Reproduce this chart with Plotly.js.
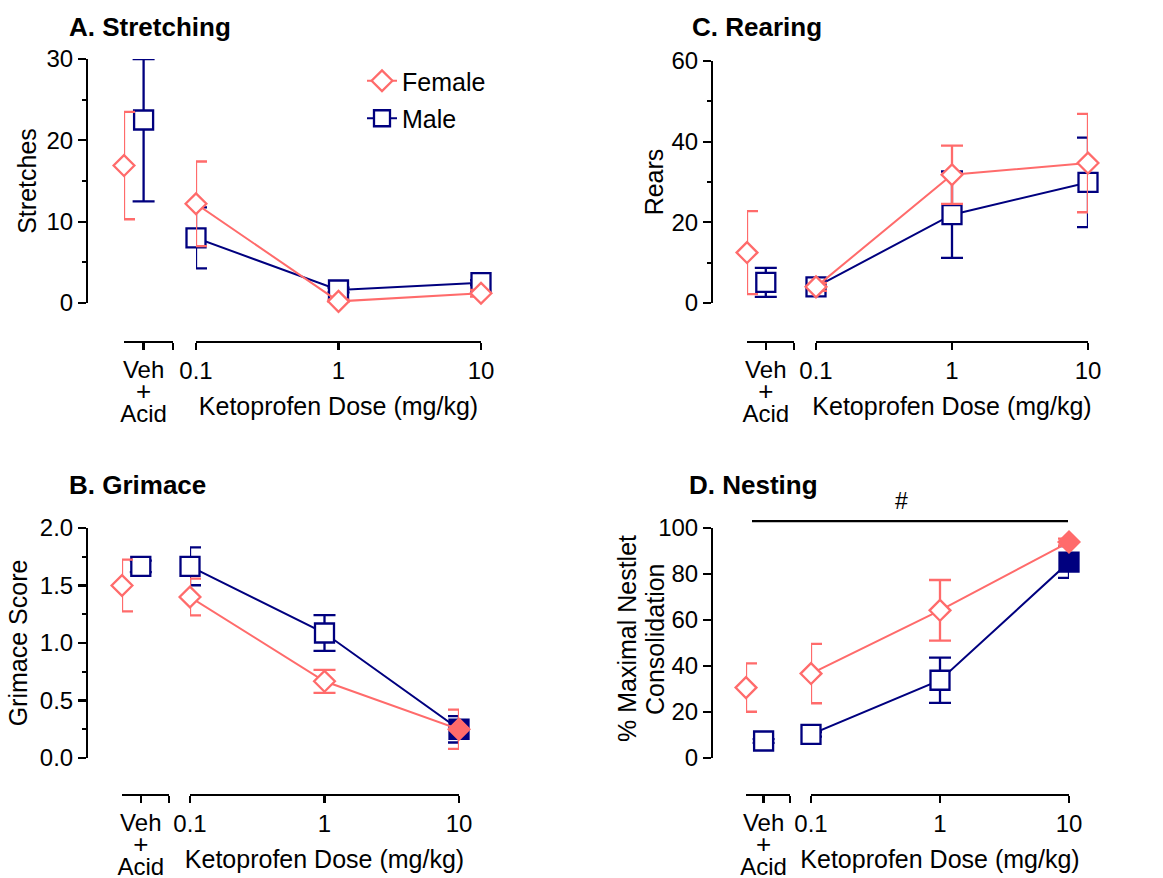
<!DOCTYPE html>
<html><head><meta charset="utf-8">
<script src="https://cdn.plot.ly/plotly-3.0.1.min.js"></script>
<style>html,body{margin:0;padding:0;background:#fff}#chart{width:1163px;height:878px}</style>
</head><body><div id="chart"></div>
<script>
// ---------------- data ----------------
// order of every value array: [Veh + Acid, 0.1, 1, 10 mg/kg]
const doseValues = [0.1, 1, 10];
const doseLabels = ['0.1', '1', '10'];
const vehLines = ['Veh', '+', 'Acid'];
const sexNames = ['Female', 'Male'];

const stretchFemale    = [16.9, 12.2, 0.2, 1.2];
const stretchFemaleSem = [6.6, 5.2, 0.2, 0.4];
const stretchMale      = [22.5, 8.0, 1.6, 2.5];
const stretchMaleSem   = [10.0, 3.75, 0.3, 0.3];
const stretchSig       = [0, 0, 0, 0];

const rearFemale    = [12.5, 4.0, 31.8, 34.7];
const rearFemaleSem = [10.3, 1.0, 7.2, 12.2];
const rearMale      = [5.1, 4.0, 21.9, 29.9];
const rearMaleSem   = [3.6, 1.0, 10.7, 11.1];
const rearSig       = [0, 0, 0, 0];

const grimaceFemale    = [1.50, 1.40, 0.667, 0.25];
const grimaceFemaleSem = [0.225, 0.16, 0.10, 0.17];
const grimaceMale      = [1.667, 1.667, 1.087, 0.25];
const grimaceMaleSem   = [0.05, 0.165, 0.155, 0.115];
const grimaceSig       = [0, 0, 0, 1];

const nestFemale    = [30.6, 36.7, 64.2, 93.9];
const nestFemaleSem = [10.5, 12.9, 13.2, 1.5];
const nestMale      = [7.4, 10.3, 33.8, 85.2];
const nestMaleSem   = [0.8, 1.0, 9.8, 6.9];
const nestSig       = [0, 0, 0, 1];
const nestBarLevel  = 103;   // height of the "#" significance bar, in % units
const nestTitleLines = ['% Maximal Nestlet', 'Consolidation'];

// ---------------- styling / geometry ----------------
const W = 1163, H = 878;
const PX = p => p / W, PY = p => 1 - p / H;
const FONT = 'Liberation Sans, Arial, Helvetica, sans-serif';
const COLORS = {Female: '#FF6B6B', Male: '#00007F'};
const SYMBOL = {Female: 'diamond', Male: 'square'};
const MSIZE = {Female: 16, Male: 19};
const VEH_POS = {Female: -1, Male: 0};
const TICK_SIZE = 24, TITLE_SIZE = 25;

const vehText = '<span style="font-size:' + TICK_SIZE + 'px">' + vehLines[0] + '</span><br>' +
                '<span style="font-size:26px">' + vehLines[1] + '</span><br>' +
                '<span style="font-size:' + TICK_SIZE + 'px">' + vehLines[2] + '</span>';

const panels = [
  {title: 'A. Stretching', tx: 67, ty: 27, ytitle: 'Stretches', standoff: 2,
   F: stretchFemale, Fs: stretchFemaleSem, M: stretchMale, Ms: stretchMaleSem, sig: stretchSig,
   yx: 87, yb: 303, yt: 59, veh: [124, 173], dose: [196, 481], axY: 342, range: [0, 30], dtick: 10, minor: 5, legend: true},
  {title: 'C. Rearing', tx: 690, ty: 27, ytitle: 'Rears', standoff: 0,
   F: rearFemale, Fs: rearFemaleSem, M: rearMale, Ms: rearMaleSem, sig: rearSig,
   yx: 712, yb: 303, yt: 61, veh: [747, 794], dose: [816, 1088], axY: 342, range: [0, 60], dtick: 20, minor: 10},
  {title: 'B. Grimace', tx: 67, ty: 485, ytitle: 'Grimace Score', standoff: 4,
   F: grimaceFemale, Fs: grimaceFemaleSem, M: grimaceMale, Ms: grimaceMaleSem, sig: grimaceSig,
   yx: 87, yb: 758, yt: 528, veh: [122, 169], dose: [190, 459], axY: 795, range: [0, 2], dtick: 0.5, minor: 0.25, tickformat: '.1f'},
  {title: 'D. Nesting', tx: 687, ty: 485, ytitleLines: nestTitleLines, ytitleX: [627, 655], ytitleY: 639,
   F: nestFemale, Fs: nestFemaleSem, M: nestMale, Ms: nestMaleSem, sig: nestSig,
   yx: 712, yb: 758, yt: 528, veh: [746, 790], dose: [811, 1069], axY: 795, range: [0, 100], dtick: 20, minor: null, hash: true}
];

const traces = [];
const layout = {
  width: W, height: H, margin: {l: 0, r: 0, t: 0, b: 0},
  paper_bgcolor: '#fff', plot_bgcolor: 'rgba(0,0,0,0)',
  font: {family: FONT, color: '#000', size: TICK_SIZE},
  showlegend: true,
  legend: {x: PX(362), y: PY(58), xanchor: 'left', yanchor: 'top', bgcolor: 'rgba(0,0,0,0)',
           font: {size: 25, family: FONT}, tracegroupgap: 2, itemsizing: 'trace'},
  annotations: [], shapes: []
};

panels.forEach((p, i) => {
  const dId = 2 * i + 1, vId = 2 * i + 2, yId = i + 1;
  const dRef = dId === 1 ? 'x' : 'x' + dId, vRef = 'x' + vId, yRef = yId === 1 ? 'y' : 'y' + yId;
  const dKey = dId === 1 ? 'xaxis' : 'xaxis' + dId, vKey = 'xaxis' + vId, yKey = yId === 1 ? 'yaxis' : 'yaxis' + yId;
  const axCommon = {showline: true, linecolor: '#000', linewidth: 2.3, ticks: 'outside', tickwidth: 2.3,
                    tickcolor: '#000', showgrid: false, zeroline: false, fixedrange: true,
                    tickfont: {size: TICK_SIZE, family: FONT, color: '#000'}};
  const yDomain = [PY(p.yb), PY(p.yt)];

  layout[yKey] = Object.assign({}, axCommon, {
    domain: yDomain, range: p.range, anchor: 'free', position: PX(p.yx),
    dtick: p.dtick, tick0: 0, ticklen: 8, tickformat: p.tickformat || ''
  });
  if (p.ytitle) layout[yKey].title = {text: p.ytitle, font: {size: TITLE_SIZE, family: FONT}, standoff: p.standoff};
  if (p.minor) layout[yKey].minor = {dtick: p.minor, ticks: 'outside', ticklen: 4, tickwidth: 2.3, tickcolor: '#000'};
  if (p.ytitleLines) {
    // two-line title with the tighter line spacing of the original
    p.ytitleLines.forEach((t, k) => layout.annotations.push({text: t, textangle: -90, xref: 'paper', yref: 'paper',
      x: PX(p.ytitleX[k]), y: PY(p.ytitleY), xanchor: 'center', yanchor: 'middle', showarrow: false,
      font: {size: TITLE_SIZE, family: FONT, color: '#000'}}));
  }

  layout[dKey] = Object.assign({}, axCommon, {
    type: 'log', range: [-1, 1], domain: [PX(p.dose[0]), PX(p.dose[1])], anchor: 'free', position: PY(p.axY),
    tickvals: doseValues, ticktext: doseLabels, ticklen: 7,
    title: {text: 'Ketoprofen Dose (mg/kg)', font: {size: TITLE_SIZE, family: FONT}, standoff: 14}
  });
  layout[vKey] = Object.assign({}, axCommon, {
    range: [-1, 1.5], domain: [PX(p.veh[0]), PX(p.veh[1])], anchor: 'free', position: PY(p.axY),
    tickvals: [0, 1.5], ticktext: [vehText, ''], ticklen: 7, ticklabelstandoff: 7,
    tickfont: {size: 17, family: FONT, color: '#000'}
  });

  const ymax = p.range[1];
  ['Male', 'Female'].forEach(sex => {
    const vals = sex === 'Female' ? p.F : p.M;
    const sem = sex === 'Female' ? p.Fs : p.Ms;
    const plus = vals.map((v, k) => Math.min(sem[k], ymax - v));   // bars clipped at axis top
    const fills = p.sig.map(s => s ? COLORS[sex] : '#fff');
    const base = {
      type: 'scatter', name: sex, legendgroup: sex, cliponaxis: false, hoverinfo: 'skip',
      legendrank: sex === 'Female' ? 1 : 2
    };
    traces.push(Object.assign({}, base, {
      x: doseValues, y: vals.slice(1), xaxis: dRef, yaxis: yRef, mode: 'lines+markers',
      showlegend: !!p.legend,
      line: {color: COLORS[sex], width: 2},
      marker: {symbol: SYMBOL[sex], size: MSIZE[sex], color: fills.slice(1), line: {color: COLORS[sex], width: 2.3}},
      error_y: {type: 'data', symmetric: false, array: plus.slice(1), arrayminus: sem.slice(1),
                color: COLORS[sex], thickness: 2.3, width: 11}
    }));
    traces.push(Object.assign({}, base, {
      x: [VEH_POS[sex]], y: [vals[0]], xaxis: vRef, yaxis: yRef, mode: 'markers', showlegend: false,
      marker: {symbol: SYMBOL[sex], size: MSIZE[sex], color: [fills[0]], line: {color: COLORS[sex], width: 2.3}},
      error_y: {type: 'data', symmetric: false, array: [plus[0]], arrayminus: [sem[0]],
                color: COLORS[sex], thickness: 2.3, width: 11}
    }));
  });

  layout.annotations.push({text: '<b>' + p.title + '</b>', xref: 'paper', yref: 'paper',
    x: PX(p.tx), y: PY(p.ty), xanchor: 'left', yanchor: 'middle', showarrow: false,
    font: {size: 26, family: FONT, color: '#000'}});

  if (p.hash) {
    const x0 = PX(p.veh[0] + 6), x1 = PX(p.dose[1] - 1);
    const yb = yDomain[0] + (nestBarLevel - p.range[0]) / (p.range[1] - p.range[0]) * (yDomain[1] - yDomain[0]);
    layout.shapes.push({type: 'line', xref: 'paper', yref: 'paper', x0: x0, x1: x1, y0: yb, y1: yb,
      line: {color: '#000', width: 2.3}});
    layout.annotations.push({text: '#', xref: 'paper', yref: 'paper', x: (x0 + x1) / 2, y: yb,
      yanchor: 'bottom', yshift: 5, showarrow: false, font: {size: 23, family: FONT, color: '#000'}});
  }
});

Plotly.newPlot('chart', traces, layout, {displayModeBar: false, staticPlot: true});
</script></body></html>
